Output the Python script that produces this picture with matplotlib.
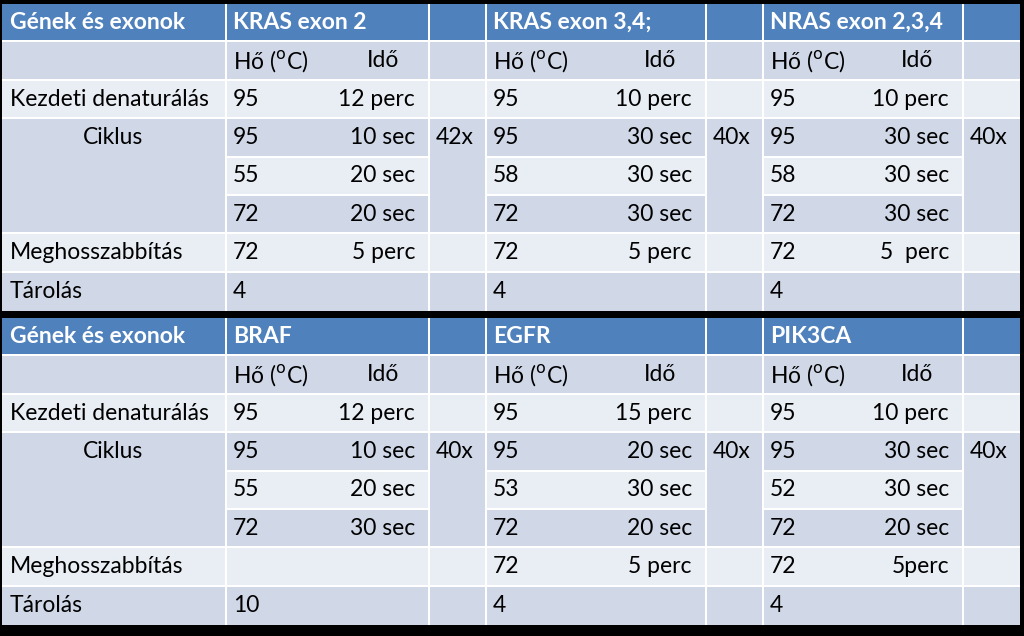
import matplotlib
matplotlib.use('Agg')
import matplotlib.pyplot as plt
from matplotlib.patches import Rectangle

# ---- data ----
row_labels = ['Kezdeti denaturálás', 'Ciklus', '', '', 'Meghosszabbítás', 'Tárolás']
genes_top = ['KRAS exon 2', 'KRAS exon 3,4;', 'NRAS exon 2,3,4']
genes_bot = ['BRAF', 'EGFR', 'PIK3CA']
temps_top = [['95', '95', '55', '72', '72', '4'],
             ['95', '95', '58', '72', '72', '4'],
             ['95', '95', '58', '72', '72', '4']]
times_top = [['12 perc', '10 sec', '20 sec', '20 sec', '5 perc', ''],
             ['10 perc', '30 sec', '30 sec', '30 sec', '5 perc', ''],
             ['10 perc', '30 sec', '30 sec', '30 sec', '5  perc', '']]
cycles_top = ['42x', '40x', '40x']
temps_bot = [['95', '95', '55', '72', '', '10'],
             ['95', '95', '53', '72', '72', '4'],
             ['95', '95', '52', '72', '72', '4']]
times_bot = [['12 perc', '10 sec', '20 sec', '30 sec', '', ''],
             ['15 perc', '20 sec', '30 sec', '20 sec', '5 perc', ''],
             ['10 perc', '30 sec', '30 sec', '20 sec', '5perc', '']]
cycles_bot = ['40x', '40x', '40x']

HEAD = '#4F81BD'
DARK = '#D0D8E8'
LIGHT = '#E9EDF4'
FONT = 'Lato'
FS = 16.5

fig = plt.figure(figsize=(10.24, 6.36), dpi=100)
fig.patch.set_facecolor('black')
ax = fig.add_axes([0, 0, 1, 1])
ax.set_xlim(0, 1024)
ax.set_ylim(636, 0)
ax.axis('off')

col_x = [(2, 225), (227, 428), (430, 485), (487, 705), (707, 762), (764, 962), (964, 1020)]

def cell(x0, x1, y0, y1, color):
    ax.add_patch(Rectangle((x0, y0), x1 - x0, y1 - y0, facecolor=color, edgecolor='none'))

def txt(x, y, s, ha='left', color='black', bold=False):
    ax.text(x, y, s, ha=ha, va='center', fontsize=FS, family=FONT, color=color,
            fontweight='bold' if bold else 'normal')

def draw_table(top, genes, temps, times, cycles):
    h = 38.4
    ys = [top + i * h for i in range(9)]
    g = 2  # white gap
    cell(2, 1020, top, ys[8], 'white')
    # header
    for x0, x1 in col_x:
        cell(x0, x1, ys[0], ys[1] - g, HEAD)
    txt(10, (ys[0] + ys[1]) / 2 - 1, 'Gének és exonok', color='white', bold=True)
    for k, gname in enumerate(genes):
        txt(col_x[1 + 2 * k][0] + 6, (ys[0] + ys[1]) / 2 - 1, gname, color='white', bold=True)
    row_colors = [DARK, LIGHT, DARK, LIGHT, DARK, LIGHT, DARK]
    for r in range(7):
        y0, y1 = ys[r + 1], ys[r + 2] - (g if r < 6 else 0)
        c = row_colors[r]
        if r == 2:
            cell(*col_x[0], ys[3], ys[6] - g, DARK)
        elif r not in (3, 4):
            cell(*col_x[0], y0, y1, c)
        for k in range(3):
            xa, xb = col_x[1 + 2 * k]
            cell(xa, xb, y0, y1, c)
            cxa, cxb = col_x[2 + 2 * k]
            if r == 2:
                cell(cxa, cxb, ys[3], ys[6] - g, DARK)
            elif r not in (3, 4):
                cell(cxa, cxb, y0, y1, c)
    # texts
    for r in range(7):
        yc = (ys[r + 1] + ys[r + 2]) / 2 - 1
        if r == 0:
            for k in range(3):
                xa, xb = col_x[1 + 2 * k]
                txt(xa + 6, yc, r'Hő ($^{\mathrm{o}}$C)')
                txt(xb - 45, yc, 'Idő', ha='center')
            continue
        i = r - 1
        lab = row_labels[i]
        if lab == 'Ciklus':
            txt(113, yc, lab, ha='center')
        elif lab:
            txt(10, yc, lab)
        for k in range(3):
            xa, xb = col_x[1 + 2 * k]
            txt(xa + 6, yc, temps[k][i])
            txt(xb - 13, yc, times[k][i], ha='right')
            if i == 1:
                txt(col_x[2 + 2 * k][0] + 6, yc, cycles[k])

draw_table(4, genes_top, temps_top, times_top, cycles_top)
draw_table(318, genes_bot, temps_bot, times_bot, cycles_bot)

fig.savefig('out.png', dpi=100, facecolor='black')
